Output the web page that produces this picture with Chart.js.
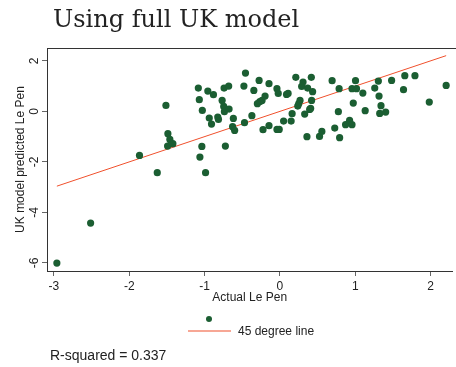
<!DOCTYPE html>
<html>
<head>
<meta charset="utf-8">
<script src="https://cdn.jsdelivr.net/npm/chart.js@4/dist/chart.umd.min.js"></script>
<style>
  html, body { margin: 0; padding: 0; background: #ffffff; }
  #c { display: block; }
</style>
</head>
<body>
<canvas id="c" width="456" height="367"></canvas>
<script>
// Actual Le Pen (x) vs UK-model predicted Le Pen (y)
const actualLePen = [
  -1.513, -1.864, -1.487, -1.461, -1.491, -1.421, -1.083, -1.070, -1.030, -0.957,
  -0.882, -0.741, -0.680, -0.767, -0.746, -0.737, -0.675, -0.938, -0.908, -0.825,
  -0.816, -0.618, -0.628, -0.601, -1.036, -1.062, -0.724, -0.478, -0.457, -0.470,
  -1.628, -0.987, -2.513, -2.961, -0.276, -0.145, -0.346, -0.039, -0.022, 0.088,
  0.109, -0.197, -0.237, -0.267, -0.299, -0.372, -0.224, -0.145, -0.039, -0.009,
  0.049, 0.149, 0.162, 0.211, 0.307, 0.289, 0.368, 0.417, 0.434, 0.267,
  0.250, 0.237, 0.421, 0.408, 0.395, 0.329, 0.359, 0.526, 0.557, 0.693,
  0.786, 0.776, 0.728, 0.793, 0.872, 0.925, 0.957, 1.004, 0.957, 1.017,
  1.101, 0.974, 1.132, 1.259, 1.307, 1.316, 1.342, 1.325, 1.404, 1.483,
  1.658, 1.793, 1.641, 1.983, 2.207
];
const predictedLePen = [
  0.238, -1.743, -0.883, -1.109, -1.374, -1.279, 0.923, 0.463, 0.040, 0.804,
  0.661, 0.923, 1.002, 0.436, 0.198, -0.012, 0.091, -0.265, -0.503, -0.226,
  -0.317, -0.277, -0.606, -0.752, -1.386, -1.810, -1.374, 1.002, 1.517, -0.448,
  -2.428, -2.428, -4.424, -6.008, 1.228, 1.097, 0.832, 0.899, 0.713, 0.673,
  0.713, 0.606, 0.436, 0.384, 0.305, -0.170, -0.725, -0.566, -0.713, -0.713,
  -0.384, -0.384, -0.091, 1.347, 1.160, 0.990, 0.923, 1.347, 0.780, 0.436,
  0.305, 0.210, 0.436, 0.119, 0.079, -0.107, -1.002, -0.990, -0.792, 1.216,
  0.899, -0.012, -0.661, -1.042, -0.527, -0.356, -0.527, 1.216, 0.899, 0.899,
  0.725, 0.329, 0.028, 0.923, 1.200, 0.606, 0.226, -0.079, -0.028, 1.228,
  1.414, 1.414, 0.859, 0.368, 1.030
];
// 45 degree line endpoints
const lineX = [-2.961, 2.207];
const lineY = [-2.961, 2.207];

const xTicks = [-3, -2, -1, 0, 1, 2];
const yTicks = [-6, -4, -2, 0, 2];

const titleText = "Using full UK model";
const xTitle = "Actual Le Pen";
const yTitle = "UK model predicted Le Pen";
const legendLineLabel = "45 degree line";
const noteText = "R-squared = 0.337";

const GREEN = '#1b5e32';
const RED = '#f0502c';
const SANS = '"Liberation Sans", Arial, Helvetica, sans-serif';

const scatterData = actualLePen.map((x, i) => ({ x: x, y: predictedLePen[i] }));
const lineData = lineX.map((x, i) => ({ x: x, y: lineY[i] }));

const decor = {
  id: 'decor',
  afterDraw(chart) {
    const ctx = chart.ctx;
    const ca = chart.chartArea;
    const ys = chart.scales.y;
    ctx.save();
    // top frame line
    ctx.strokeStyle = '#333';
    ctx.lineWidth = 1;
    ctx.beginPath();
    ctx.moveTo(ca.left, ca.top + 0.5);
    ctx.lineTo(chart.width, ca.top + 0.5);
    ctx.stroke();

    // title
    ctx.fillStyle = '#222';
    ctx.font = '24px "DejaVu Serif", serif';
    ctx.textAlign = 'left';
    ctx.textBaseline = 'alphabetic';
    ctx.fillText(titleText, 53, 27);

    // y tick labels (rotated)
    ctx.font = '12px ' + SANS;
    ctx.fillStyle = '#222';
    ctx.textAlign = 'center';
    ctx.textBaseline = 'middle';
    ys.ticks.forEach(t => {
      const py = ys.getPixelForValue(t.value);
      ctx.save();
      ctx.translate(35, py);
      ctx.rotate(-Math.PI / 2);
      ctx.fillText(String(t.value), 0, 0);
      ctx.restore();
    });

    // y title
    ctx.save();
    ctx.translate(21, (ca.top + ca.bottom) / 2);
    ctx.rotate(-Math.PI / 2);
    ctx.fillText(yTitle, 0, 0);
    ctx.restore();

    // x title
    ctx.fillText(xTitle, (ca.left + ca.right) / 2, 298);

    // legend
    ctx.fillStyle = GREEN;
    ctx.beginPath();
    ctx.arc(209, 319, 3, 0, Math.PI * 2);
    ctx.fill();
    ctx.strokeStyle = RED;
    ctx.lineWidth = 1.2;
    ctx.beginPath();
    ctx.moveTo(188, 331);
    ctx.lineTo(231, 331);
    ctx.stroke();
    ctx.fillStyle = '#222';
    ctx.textAlign = 'left';
    ctx.fillText(legendLineLabel, 238, 332);

    // note
    ctx.font = '14px ' + SANS;
    ctx.fillText(noteText, 50, 356);
    ctx.restore();
  }
};

new Chart(document.getElementById('c'), {
  type: 'scatter',
  data: {
    datasets: [
      {
        data: scatterData,
        backgroundColor: GREEN,
        borderColor: GREEN,
        borderWidth: 0,
        pointRadius: 3.6,
        pointHoverRadius: 3.6
      },
      {
        type: 'line',
        data: lineData,
        borderColor: RED,
        borderWidth: 1,
        pointRadius: 0,
        fill: false,
        showLine: true
      }
    ]
  },
  options: {
    responsive: false,
    animation: false,
    devicePixelRatio: 1,
    layout: { padding: { top: 48, left: 0, right: 0, bottom: 0 } },
    plugins: { legend: { display: false }, tooltip: { enabled: false } },
    scales: {
      x: {
        type: 'linear',
        min: -3.092,
        max: 2.29,
        afterBuildTicks: s => { s.ticks = xTicks.map(v => ({ value: v })); },
        afterFit: s => { s.height = 96; },
        grid: { drawOnChartArea: false, drawTicks: true, tickLength: 5, color: '#666' },
        border: { display: true, color: '#333', width: 1 },
        ticks: { font: { size: 12, family: SANS }, color: '#222', padding: 3 },
        title: { display: false }
      },
      y: {
        type: 'linear',
        min: -6.32,
        max: 2.51,
        afterBuildTicks: s => { s.ticks = yTicks.map(v => ({ value: v })); },
        afterFit: s => { s.width = 47; },
        grid: { drawOnChartArea: false, drawTicks: true, tickLength: 5, color: '#666' },
        border: { display: true, color: '#333', width: 1 },
        ticks: { display: false },
        title: { display: false }
      }
    }
  },
  plugins: [decor]
});
</script>
</body>
</html>
